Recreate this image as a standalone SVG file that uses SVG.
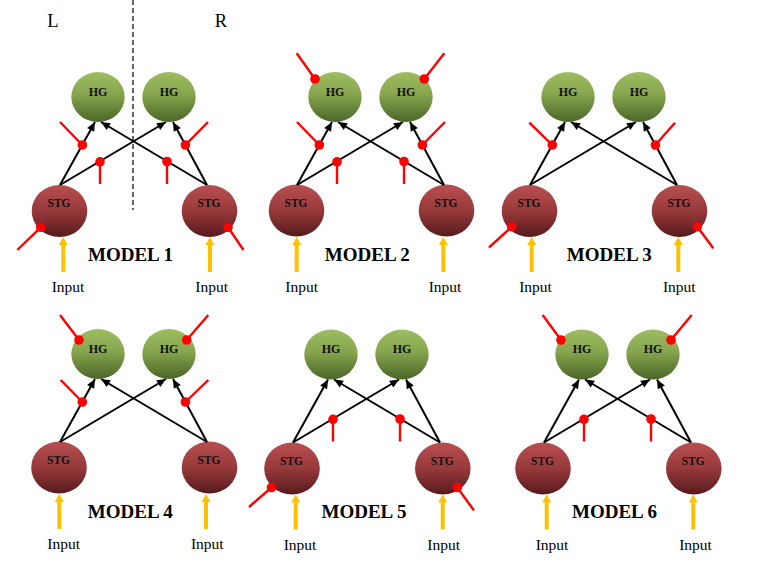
<svg xmlns="http://www.w3.org/2000/svg" width="766" height="563" viewBox="0 0 766 563">
<style>
.bg{fill:#ffffff}
.hg{fill:url(#gHG)}
.stg{fill:url(#gSTG)}
.nl{font-family:"Liberation Serif","Times New Roman",serif;font-weight:bold;font-size:12px;fill:#111;text-anchor:middle}
.nls{font-family:"Liberation Serif","Times New Roman",serif;font-weight:bold;font-size:11.5px;fill:#111;text-anchor:middle}
.edge{stroke:#000;stroke-width:2;fill:none;marker-end:url(#ah)}
.inh{stroke:#ff0000;stroke-width:2.4;fill:none}
.dot{fill:#ff0000}
.inp{stroke:#ffc000;stroke-width:4;fill:none}
.inph{fill:#ffc000}
.it{font-family:"Liberation Serif","Times New Roman",serif;font-size:15.5px;fill:#000;text-anchor:middle}
.mt{font-family:"Liberation Serif","Times New Roman",serif;font-weight:bold;font-size:19px;fill:#000;text-anchor:middle}
.lr{font-family:"Liberation Serif","Times New Roman",serif;font-size:18.5px;fill:#000;text-anchor:middle}
.dash{stroke:#000;stroke-width:1.2;stroke-dasharray:5 3;fill:none}
</style>
<defs>
<linearGradient id="gHG" x1="0" y1="0" x2="0" y2="1">
<stop offset="0" stop-color="#9dbd61"/>
<stop offset="0.45" stop-color="#86a54d"/>
<stop offset="1" stop-color="#4b6528"/>
</linearGradient>
<linearGradient id="gSTG" x1="0" y1="0" x2="0" y2="1">
<stop offset="0" stop-color="#b94f51"/>
<stop offset="0.5" stop-color="#97393b"/>
<stop offset="1" stop-color="#571a1c"/>
</linearGradient>
<marker id="ah" markerUnits="userSpaceOnUse" markerWidth="10" markerHeight="9" refX="9" refY="4" orient="auto" overflow="visible">
<path d="M0,0 L9,4 L0,8 z" fill="#000"/>
</marker>
</defs>
<rect class="bg" x="0" y="0" width="766" height="563"/>

<g id="side-labels">
<text class="lr" x="53" y="27">L</text>
<text class="lr" x="221" y="27">R</text>
<line class="dash" x1="133" y1="0" x2="133" y2="210"/>
</g>

<!-- MODEL 1 -->
<g id="model1">
<g id="m1-hg-l"><ellipse class="hg" cx="98" cy="97" rx="26.7" ry="25"/><text class="nl" x="98" y="95.5">HG</text></g>
<g id="m1-hg-r"><ellipse class="hg" cx="169" cy="97" rx="26.7" ry="25"/><text class="nl" x="169" y="95.5">HG</text></g>
<g id="m1-stg-l"><ellipse class="stg" cx="59.5" cy="211" rx="27.8" ry="26"/><text class="nls" x="59" y="207">STG</text></g>
<g id="m1-stg-r"><ellipse class="stg" cx="209.5" cy="211" rx="27.8" ry="26"/><text class="nls" x="209" y="207">STG</text></g>
<g id="m1-connectors">
<line class="edge" x1="60" y1="185" x2="95" y2="122"/>
<line class="edge" x1="60" y1="185" x2="166" y2="122"/>
<line class="edge" x1="207" y1="185" x2="101" y2="122"/>
<line class="edge" x1="207" y1="185" x2="173" y2="122"/>
<line class="inh" x1="82.3" y1="145" x2="60" y2="122"/><circle class="dot" cx="82.3" cy="145" r="4.8"/>
<line class="inh" x1="185.4" y1="145" x2="208" y2="122"/><circle class="dot" cx="185.4" cy="145" r="4.8"/>
<line class="inh" x1="100" y1="161.8" x2="100" y2="184"/><circle class="dot" cx="100" cy="161.8" r="4.8"/>
<line class="inh" x1="167" y1="161.5" x2="167" y2="184"/><circle class="dot" cx="167" cy="161.5" r="4.8"/>
<line class="inh" x1="40.7" y1="227.3" x2="17.3" y2="250"/><circle class="dot" cx="40.7" cy="227.3" r="4.8"/>
<line class="inh" x1="228" y1="227.3" x2="243.5" y2="250"/><circle class="dot" cx="228" cy="227.3" r="4.8"/>
<line class="inp" x1="63.3" y1="272" x2="63.3" y2="245"/><path class="inph" d="M58.8,245 L67.8,245 L63.3,237 z"/>
<line class="inp" x1="210" y1="272" x2="210" y2="245"/><path class="inph" d="M205.5,245 L214.5,245 L210,237 z"/>
</g>
<text class="it" x="68" y="292">Input</text>
<text class="it" x="211.7" y="292">Input</text>
<text class="mt" x="130.5" y="260.7">MODEL 1</text>
</g>

<!-- MODEL 2 -->
<g id="model2" transform="translate(237,0)">
<g id="m2-hg-l"><ellipse class="hg" cx="98" cy="97" rx="26.7" ry="25"/><text class="nl" x="98" y="95.5">HG</text></g>
<g id="m2-hg-r"><ellipse class="hg" cx="169" cy="97" rx="26.7" ry="25"/><text class="nl" x="169" y="95.5">HG</text></g>
<g id="m2-stg-l"><ellipse class="stg" cx="59.5" cy="210.5" rx="27.8" ry="26"/><text class="nls" x="59" y="206.5">STG</text></g>
<g id="m2-stg-r"><ellipse class="stg" cx="209.5" cy="210.5" rx="27.8" ry="26"/><text class="nls" x="209" y="206.5">STG</text></g>
<g id="m2-connectors">
<line class="edge" x1="60" y1="185" x2="95" y2="122"/>
<line class="edge" x1="60" y1="185" x2="166" y2="122"/>
<line class="edge" x1="207" y1="185" x2="101" y2="122"/>
<line class="edge" x1="207" y1="185" x2="173" y2="122"/>
<line class="inh" x1="78" y1="79" x2="59.7" y2="53.3"/><circle class="dot" cx="78" cy="79" r="4.8"/>
<line class="inh" x1="187.3" y1="79" x2="207.3" y2="53.3"/><circle class="dot" cx="187.3" cy="79" r="4.8"/>
<line class="inh" x1="82.3" y1="145" x2="60" y2="122"/><circle class="dot" cx="82.3" cy="145" r="4.8"/>
<line class="inh" x1="185.4" y1="145" x2="208" y2="122"/><circle class="dot" cx="185.4" cy="145" r="4.8"/>
<line class="inh" x1="100" y1="161.8" x2="100" y2="184"/><circle class="dot" cx="100" cy="161.8" r="4.8"/>
<line class="inh" x1="167" y1="161.5" x2="167" y2="184"/><circle class="dot" cx="167" cy="161.5" r="4.8"/>
<line class="inp" x1="59.7" y1="272" x2="59.7" y2="245"/><path class="inph" d="M55.2,245 L64.2,245 L59.7,237 z"/>
<line class="inp" x1="206.3" y1="272" x2="206.3" y2="245"/><path class="inph" d="M201.8,245 L210.8,245 L206.3,237 z"/>
</g>
<text class="it" x="64.7" y="292">Input</text>
<text class="it" x="208" y="292">Input</text>
<text class="mt" x="130.3" y="260.7">MODEL 2</text>
</g>

<!-- MODEL 3 -->
<g id="model3" transform="translate(470,0)">
<g id="m3-hg-l"><ellipse class="hg" cx="98" cy="97" rx="26.7" ry="25"/><text class="nl" x="98" y="95.5">HG</text></g>
<g id="m3-hg-r"><ellipse class="hg" cx="169" cy="97" rx="26.7" ry="25"/><text class="nl" x="169" y="95.5">HG</text></g>
<g id="m3-stg-l"><ellipse class="stg" cx="59.5" cy="211" rx="27.8" ry="26"/><text class="nls" x="59" y="207">STG</text></g>
<g id="m3-stg-r"><ellipse class="stg" cx="209.5" cy="211" rx="27.8" ry="26"/><text class="nls" x="209" y="207">STG</text></g>
<g id="m3-connectors">
<line class="edge" x1="60" y1="185" x2="95" y2="122"/>
<line class="edge" x1="60" y1="185" x2="166" y2="122"/>
<line class="edge" x1="207" y1="185" x2="101" y2="122"/>
<line class="edge" x1="207" y1="185" x2="173" y2="122"/>
<line class="inh" x1="82.3" y1="145" x2="59.3" y2="122.7"/><circle class="dot" cx="82.3" cy="145" r="4.8"/>
<line class="inh" x1="185.4" y1="145" x2="205" y2="122.7"/><circle class="dot" cx="185.4" cy="145" r="4.8"/>
<line class="inh" x1="41.7" y1="226.7" x2="19" y2="247.5"/><circle class="dot" cx="41.7" cy="226.7" r="4.8"/>
<line class="inh" x1="227.3" y1="226.7" x2="243.3" y2="248.3"/><circle class="dot" cx="227.3" cy="226.7" r="4.8"/>
<line class="inp" x1="61.7" y1="272" x2="61.7" y2="245"/><path class="inph" d="M57.2,245 L66.2,245 L61.7,237 z"/>
<line class="inp" x1="208.3" y1="272" x2="208.3" y2="245"/><path class="inph" d="M203.8,245 L212.8,245 L208.3,237 z"/>
</g>
<text class="it" x="65.5" y="292">Input</text>
<text class="it" x="209.3" y="292">Input</text>
<text class="mt" x="139.3" y="260.7">MODEL 3</text>
</g>

<!-- MODEL 4 -->
<g id="model4" transform="translate(0,257)">
<g id="m4-hg-l"><ellipse class="hg" cx="98" cy="97" rx="26.7" ry="25"/><text class="nl" x="98" y="95.5">HG</text></g>
<g id="m4-hg-r"><ellipse class="hg" cx="169" cy="97" rx="26.7" ry="25"/><text class="nl" x="169" y="95.5">HG</text></g>
<g id="m4-stg-l"><ellipse class="stg" cx="59" cy="210.5" rx="27.8" ry="26"/><text class="nls" x="58.5" y="206.5">STG</text></g>
<g id="m4-stg-r"><ellipse class="stg" cx="209.5" cy="210.5" rx="27.8" ry="26"/><text class="nls" x="209" y="206.5">STG</text></g>
<g id="m4-connectors">
<line class="edge" x1="60" y1="185" x2="95" y2="122"/>
<line class="edge" x1="60" y1="185" x2="166" y2="122"/>
<line class="edge" x1="207" y1="185" x2="101" y2="122"/>
<line class="edge" x1="207" y1="185" x2="173" y2="122"/>
<line class="inh" x1="79" y1="83" x2="60" y2="58"/><circle class="dot" cx="79" cy="83" r="4.8"/>
<line class="inh" x1="186.7" y1="83" x2="208.3" y2="58"/><circle class="dot" cx="186.7" cy="83" r="4.8"/>
<line class="inh" x1="82.3" y1="145" x2="60.7" y2="123"/><circle class="dot" cx="82.3" cy="145" r="4.8"/>
<line class="inh" x1="185.4" y1="145" x2="208.3" y2="123"/><circle class="dot" cx="185.4" cy="145" r="4.8"/>
<line class="inp" x1="59.3" y1="272" x2="59.3" y2="245"/><path class="inph" d="M54.8,245 L63.8,245 L59.3,237 z"/>
<line class="inp" x1="206" y1="272" x2="206" y2="245"/><path class="inph" d="M201.5,245 L210.5,245 L206,237 z"/>
</g>
<text class="it" x="63.7" y="292">Input</text>
<text class="it" x="207.3" y="292">Input</text>
<text class="mt" x="130.3" y="260.7">MODEL 4</text>
</g>

<!-- MODEL 5 -->
<g id="model5" transform="translate(233,257.5)">
<g id="m5-hg-l"><ellipse class="hg" cx="98" cy="97" rx="26.7" ry="25"/><text class="nl" x="98" y="95.5">HG</text></g>
<g id="m5-hg-r"><ellipse class="hg" cx="169" cy="97" rx="26.7" ry="25"/><text class="nl" x="169" y="95.5">HG</text></g>
<g id="m5-stg-l"><ellipse class="stg" cx="59" cy="211" rx="27.8" ry="26"/><text class="nls" x="58.5" y="207">STG</text></g>
<g id="m5-stg-r"><ellipse class="stg" cx="209.8" cy="211" rx="27.8" ry="26"/><text class="nls" x="209.3" y="207">STG</text></g>
<g id="m5-connectors">
<line class="edge" x1="60" y1="185" x2="95" y2="122"/>
<line class="edge" x1="60" y1="185" x2="166" y2="122"/>
<line class="edge" x1="207" y1="185" x2="101" y2="122"/>
<line class="edge" x1="207" y1="185" x2="173" y2="122"/>
<line class="inh" x1="100" y1="161.8" x2="100" y2="184"/><circle class="dot" cx="100" cy="161.8" r="4.8"/>
<line class="inh" x1="167" y1="161.5" x2="167" y2="184"/><circle class="dot" cx="167" cy="161.5" r="4.8"/>
<line class="inh" x1="38.5" y1="230" x2="16" y2="249.5"/><circle class="dot" cx="38.5" cy="230" r="4.8"/>
<line class="inh" x1="224.3" y1="230" x2="241" y2="253"/><circle class="dot" cx="224.3" cy="230" r="4.8"/>
<line class="inp" x1="62.7" y1="272" x2="62.7" y2="245"/><path class="inph" d="M58.2,245 L67.2,245 L62.7,237 z"/>
<line class="inp" x1="209.7" y1="272" x2="209.7" y2="245"/><path class="inph" d="M205.2,245 L214.2,245 L209.7,237 z"/>
</g>
<text class="it" x="67" y="292">Input</text>
<text class="it" x="210.7" y="292">Input</text>
<text class="mt" x="131" y="260.7">MODEL 5</text>
</g>

<!-- MODEL 6 -->
<g id="model6" transform="translate(484,257.5)">
<g id="m6-hg-l"><ellipse class="hg" cx="98" cy="97" rx="26.7" ry="25"/><text class="nl" x="98" y="95.5">HG</text></g>
<g id="m6-hg-r"><ellipse class="hg" cx="169" cy="97" rx="26.7" ry="25"/><text class="nl" x="169" y="95.5">HG</text></g>
<g id="m6-stg-l"><ellipse class="stg" cx="59" cy="211" rx="27.8" ry="26"/><text class="nls" x="58.5" y="207">STG</text></g>
<g id="m6-stg-r"><ellipse class="stg" cx="209.8" cy="211" rx="27.8" ry="26"/><text class="nls" x="209.3" y="207">STG</text></g>
<g id="m6-connectors">
<line class="edge" x1="60" y1="185" x2="95" y2="122"/>
<line class="edge" x1="60" y1="185" x2="166" y2="122"/>
<line class="edge" x1="207" y1="185" x2="101" y2="122"/>
<line class="edge" x1="207" y1="185" x2="173" y2="122"/>
<line class="inh" x1="77" y1="82.5" x2="58.7" y2="57.5"/><circle class="dot" cx="77" cy="82.5" r="4.8"/>
<line class="inh" x1="187" y1="82.5" x2="207.7" y2="57.5"/><circle class="dot" cx="187" cy="82.5" r="4.8"/>
<line class="inh" x1="100" y1="161.8" x2="100" y2="184"/><circle class="dot" cx="100" cy="161.8" r="4.8"/>
<line class="inh" x1="167" y1="161.5" x2="167" y2="184"/><circle class="dot" cx="167" cy="161.5" r="4.8"/>
<line class="inp" x1="62.7" y1="272" x2="62.7" y2="245"/><path class="inph" d="M58.2,245 L67.2,245 L62.7,237 z"/>
<line class="inp" x1="209.3" y1="272" x2="209.3" y2="245"/><path class="inph" d="M204.8,245 L213.8,245 L209.3,237 z"/>
</g>
<text class="it" x="68" y="292">Input</text>
<text class="it" x="211.5" y="292">Input</text>
<text class="mt" x="130.5" y="260.7">MODEL 6</text>
</g>
</svg>
